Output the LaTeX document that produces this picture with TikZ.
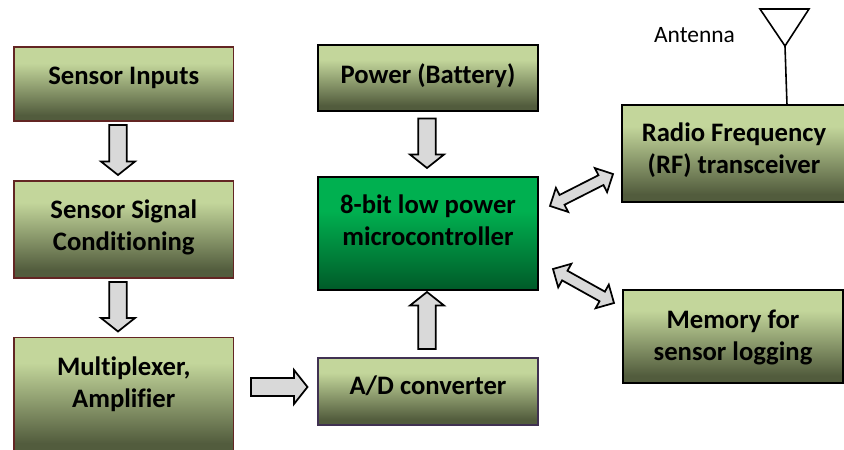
\documentclass[tikz,border=0pt]{standalone}
\usepackage{fontspec}
\setmainfont[Ligatures=NoCommon]{Carlito}
\usetikzlibrary{calc}
\definecolor{oliveA}{HTML}{C3D69B}
\definecolor{oliveB}{HTML}{525C3D}
\definecolor{greenA}{HTML}{00B050}
\definecolor{greenB}{HTML}{005A28}
\definecolor{redline}{HTML}{632523}
\definecolor{purpline}{HTML}{403152}
\definecolor{arrowfill}{HTML}{D9D9D9}
\pgfdeclareverticalshading{olivegrad}{100bp}{color(0bp)=(oliveB); color(29bp)=(oliveB); color(64bp)=(oliveA); color(100bp)=(oliveA)}
\pgfdeclareverticalshading{greengrad}{100bp}{color(0bp)=(greenB); color(25bp)=(greenB); color(60bp)=(greenA); color(100bp)=(greenA)}
\newcommand{\lifted}[2]{\raisebox{#1}[0pt][0pt]{\begin{tabular}{@{}c@{}}#2\end{tabular}}}
\newcommand{\px}{0.75pt}
\tikzset{
  x=0.75pt,y=-0.75pt,
  blockbox/.style={draw=black,line width=1.4pt,shading=olivegrad,inner sep=0pt,
    font=\fontsize{20}{24}\selectfont\bfseries,text=black},
  redbox/.style={blockbox,draw=redline},
  purpbox/.style={blockbox,draw=purpline},
  greenbox/.style={blockbox,shading=greengrad},
  hugearrow/.style={draw=black,line width=1.3pt,fill=arrowfill,line join=miter,to path={
    ($(\tikztostart)!#1!90:(\tikztotarget)$)
    -- ($($(\tikztotarget)!13.5*\px!(\tikztostart)$)!#1!-90:(\tikztostart)$)
    -- ($($(\tikztotarget)!13.5*\px!(\tikztostart)$)!17*\px!-90:(\tikztostart)$)
    -- (\tikztotarget)
    -- ($($(\tikztotarget)!13.5*\px!(\tikztostart)$)!17*\px!90:(\tikztostart)$)
    -- ($($(\tikztotarget)!13.5*\px!(\tikztostart)$)!#1!90:(\tikztostart)$)
    -- ($(\tikztostart)!#1!-90:(\tikztotarget)$)
    -- cycle}},
  twoway/.style={draw=black,line width=1.3pt,fill=arrowfill,line join=miter,to path={
    (\tikztostart)
    -- ($($(\tikztostart)!13.5*\px!(\tikztotarget)$)!13.5*\px!90:(\tikztotarget)$)
    -- ($($(\tikztostart)!13.5*\px!(\tikztotarget)$)!5.5*\px!90:(\tikztotarget)$)
    -- ($($(\tikztotarget)!13.5*\px!(\tikztostart)$)!5.5*\px!-90:(\tikztostart)$)
    -- ($($(\tikztotarget)!13.5*\px!(\tikztostart)$)!13.5*\px!-90:(\tikztostart)$)
    -- (\tikztotarget)
    -- ($($(\tikztotarget)!13.5*\px!(\tikztostart)$)!13.5*\px!90:(\tikztostart)$)
    -- ($($(\tikztotarget)!13.5*\px!(\tikztostart)$)!5.5*\px!90:(\tikztostart)$)
    -- ($($(\tikztostart)!13.5*\px!(\tikztotarget)$)!5.5*\px!-90:(\tikztotarget)$)
    -- ($($(\tikztostart)!13.5*\px!(\tikztotarget)$)!13.5*\px!-90:(\tikztotarget)$)
    -- cycle}},
  wire/.style={draw=black,line width=1.2pt,line join=miter},
  antlabel/.style={font=\fontsize{17.6}{20}\selectfont,text=black,inner sep=0pt}
}
\begin{document}
\begin{tikzpicture}
\useasboundingbox (0,0) rectangle (844,450);
\node[redbox,minimum width=219.5*\px,minimum height=74*\px] (inputs) at (123.75,84) {\lifted{-0.4pt}{Sensor Inputs}};
\node[redbox,minimum width=219.5*\px,minimum height=97*\px] (cond) at (123.75,229.5) {\lifted{-4.5pt}{Sensor Signal\\Conditioning}};
\node[redbox,minimum width=219.5*\px,minimum height=115*\px] (mux) at (123.75,395) {\lifted{2.3pt}{Multiplexer,\\Amplifier}};
\node[blockbox,minimum width=220*\px,minimum height=65.5*\px] (power) at (428,78) {\lifted{-4.8pt}{Power (Battery)}};
\node[greenbox,minimum width=220*\px,minimum height=113*\px] (mcu) at (428,233.5) {\lifted{2.3pt}{8-bit low power\\microcontroller}};
\node[purpbox,minimum width=220*\px,minimum height=67*\px] (adc) at (428,391.5) {\lifted{-3pt}{A/D converter}};
\node[blockbox,minimum width=224*\px,minimum height=97*\px] (rf) at (734,153.5) {\lifted{-3.7pt}{Radio Frequency\\(RF) transceiver}};
\node[blockbox,minimum width=220*\px,minimum height=93*\px] (mem) at (733,336.5) {\lifted{-6.7pt}{Memory for\\sensor logging}};
\node[antlabel] (ant) at (694.5,35) {Antenna};
\coordinate (a1s) at (118,125); \coordinate (a1e) at (118,175);
\coordinate (a2s) at (118,282); \coordinate (a2e) at (118,331.5);
\coordinate (a3s) at (251,387); \coordinate (a3e) at (307.5,387);
\coordinate (a4s) at (427,349); \coordinate (a4e) at (427,292);
\coordinate (a5s) at (427,118.5); \coordinate (a5e) at (427,168);
\coordinate (d1s) at (550,206); \coordinate (d1e) at (613,174);
\coordinate (d2s) at (553,269); \coordinate (d2e) at (614,303);
\draw[hugearrow=8.7*\px] (a1s) to (a1e);
\draw[hugearrow=8.7*\px] (a2s) to (a2e);
\draw[hugearrow=9*\px] (a3s) to (a3e);
\draw[hugearrow=8.7*\px] (a4s) to (a4e);
\draw[hugearrow=8.7*\px] (a5s) to (a5e);
\draw[twoway] (d1s) to (d1e);
\draw[twoway] (d2s) to (d2e);
\coordinate (tipL) at (760,9); \coordinate (tipR) at (809,9); \coordinate (tipB) at (785,46);
\coordinate (feed) at (787,105);
\draw[wire] (tipL) -- (tipR) -- (tipB) -- cycle;
\draw[wire] (tipB) -- (feed);
\end{tikzpicture}
\end{document}
